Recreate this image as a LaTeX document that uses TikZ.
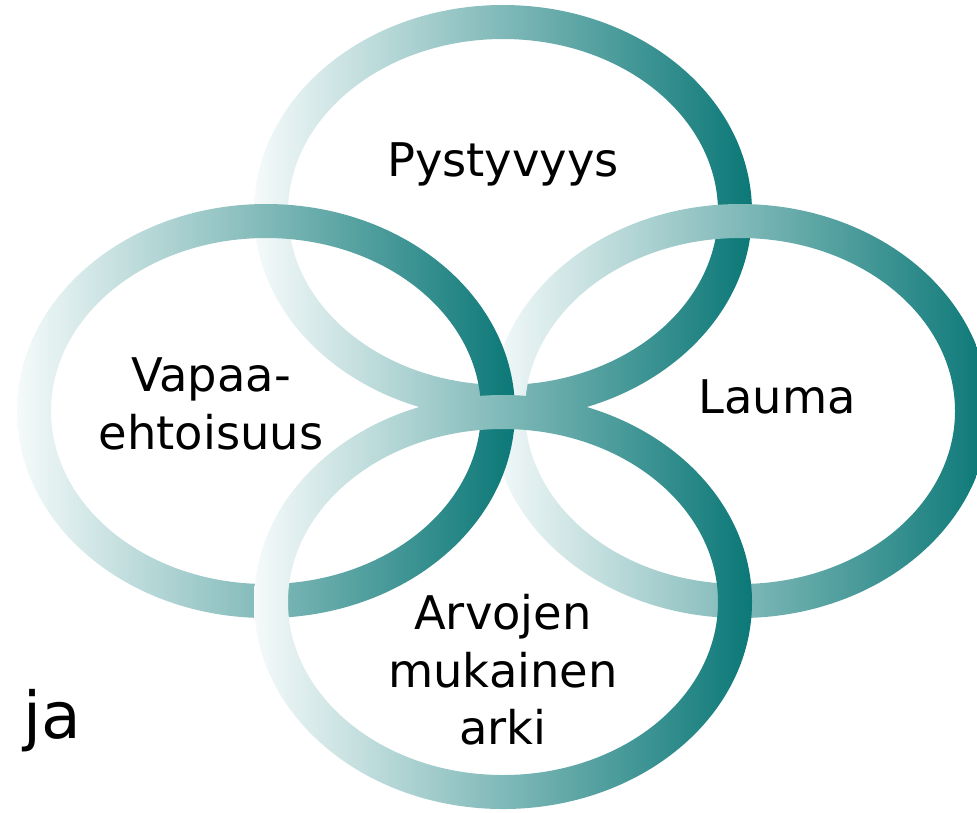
\documentclass[tikz,border=0pt]{standalone}
\usepackage{fontspec}
\setmainfont{DejaVu Sans}
\usetikzlibrary{positioning}
\definecolor{tealdark}{RGB}{11,120,119}
\definecolor{tealpale}{RGB}{245,250,250}

\begin{document}
\begin{tikzpicture}[x=0.025cm, y=-0.025cm,
            rengas/.style={even odd rule, left color=tealpale, right color=tealdark},
            teksti/.style={font=\fontsize{33}{41}\selectfont, align=center, inner sep=0pt}
        ]
            \useasboundingbox (0,0) rectangle (977,812);

            % Renkaiden keskipisteet
            \coordinate (cTop) at (503,212);
            \coordinate (cLeft) at (266,411);
            \coordinate (cRight) at (740,411);
            \coordinate (cBottom) at (503,602);

            % Renkaat piirtojärjestyksessä (ylin viimeisenä)
            \foreach \c in {cTop, cRight, cLeft, cBottom}
                \shade[rengas] (\c) ellipse [x radius=249, y radius=207]
                               (\c) ellipse [x radius=215, y radius=173];

            % Tekstit
            \node[teksti] (pysty) at (503,164) {Pystyvyys};
            \node[teksti] (vapaa) at (211,404) {Vapaa-\\ehtoisuus};
            \node[teksti] (lauma) at (777,397) {Lauma};
            \node[teksti] (arvot) at (503,670) {Arvojen\\mukainen\\arki};
            \node[teksti, font=\fontsize{46}{55}\selectfont] (ja) at (52,721) {ja};
        \end{tikzpicture}
\end{document}
